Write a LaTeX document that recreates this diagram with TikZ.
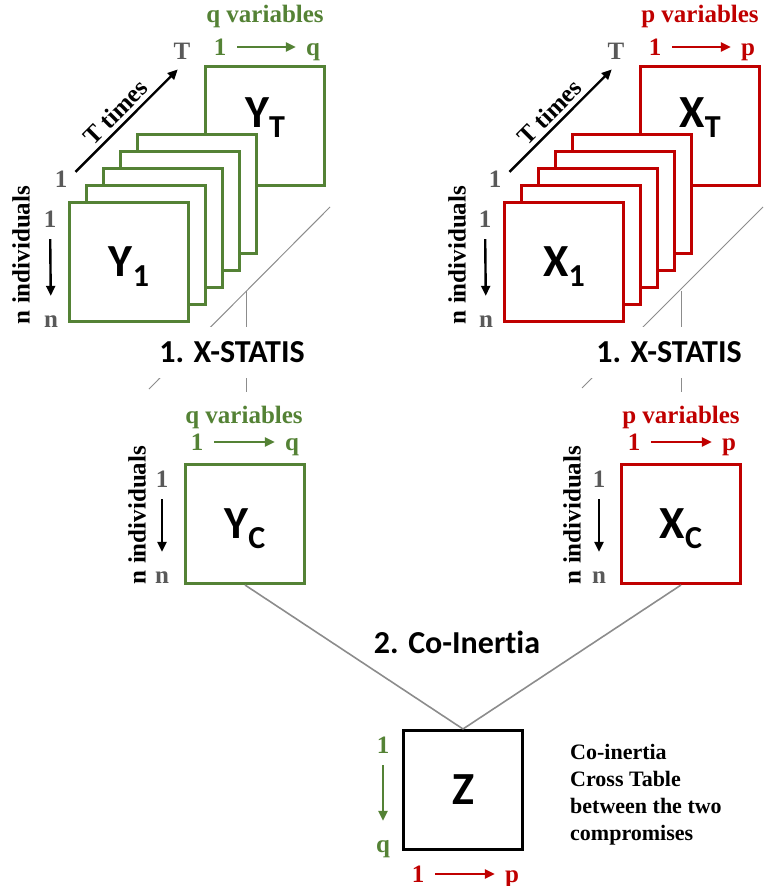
\documentclass[tikz,border=0pt]{standalone}
\usepackage{fontspec}
\setmainfont{Liberation Serif}
\newfontfamily\calib[Ligatures=NoCommon]{Carlito}
\usepackage{xcolor}
\usepackage{tikz}
\usetikzlibrary{arrows.meta}

\definecolor{ygreen}{RGB}{84,130,53}
\definecolor{xred}{RGB}{192,0,0}
\definecolor{numgray}{RGB}{89,89,89}
\definecolor{linkgray}{RGB}{140,140,140}

\newcommand{\tabl}[2]{{\calib\bfseries\fontsize{46}{46}\selectfont #1\raisebox{-10pt}[0pt][0pt]{\fontsize{32}{32}\selectfont #2}}}

\begin{document}
\begin{tikzpicture}[
    x=1pt, y=-1pt,
    ymat/.style={rectangle, draw=ygreen, line width=3pt, fill=white, minimum size=119pt, inner sep=0pt},
    xmat/.style={ymat, draw=xred},
    zmat/.style={ymat, draw=black},
    matname/.style={anchor=base, inner sep=0pt},
    varlabel/.style={font=\bfseries\fontsize{25}{25}\selectfont, anchor=base, inner sep=1pt},
    idx/.style={varlabel, text height=21pt, text depth=5pt},
    axislabel/.style={font=\bfseries\fontsize{25}{25}\selectfont, inner sep=1pt},
    stage/.style={font=\calib\bfseries\fontsize{32}{32}\selectfont, fill=white, minimum width=173pt, minimum height=51pt},
    link/.style={draw=linkgray, line width=1pt},
    harrow/.style={-{Triangle[length=10pt, width=9pt]}, line width=2.4pt, shorten <=10pt, shorten >=9pt},
    varrow/.style={-{Triangle[length=10pt, width=9pt]}, line width=2.4pt, shorten <=6pt, shorten >=9pt},
    tarrow/.style={-{Triangle[length=10pt, width=9pt]}, line width=2.4pt, shorten <=10pt, shorten >=6pt}
]
\useasboundingbox (0,0) rectangle (763,886);

% plane under the stacks
\coordinate (yplaneA) at (330,207);
\coordinate (yplaneB) at (149,389);
\coordinate (yplaneC) at (246,291);
\coordinate (yplaneD) at (246,392);
\coordinate (xplaneA) at (763,207);
\coordinate (xplaneB) at (582,388);
\coordinate (xplaneC) at (681,291);
\coordinate (xplaneD) at (681,392);
\draw[link] (yplaneA) -- (yplaneB);
\draw[link] (yplaneC) -- (yplaneD);
\draw[link] (xplaneA) -- (xplaneB);
\draw[link] (xplaneC) -- (xplaneD);

% Y stack
\node[ymat] (yT) at (265,126) {};
\node[matname] (yTname) at (265,127) {\tabl{Y}{T}};
\node[ymat] (y5) at (197,194) {};
\node[ymat] (y4) at (180,211) {};
\node[ymat] (y3) at (163,228) {};
\node[ymat] (y2) at (146,245) {};
\node[ymat] (y1) at (129,262) {\tabl{Y}{1}};

\node[varlabel, text=ygreen] (yvar) at (265,22) {q variables};
\node[idx, text=ygreen] (yv1) at (220,55) {1};
\node[idx, text=ygreen] (yvq) at (313,55) {q};
\node[idx, text=numgray] (ytT) at (182,59) {T};
\node[idx, text=numgray] (yt1) at (61,187) {1};
\node[axislabel, rotate=90] (yind) at (21,255) {n individuals};
\node[idx, text=numgray] (yn1) at (50,227) {1};
\node[idx, text=numgray] (ynn) at (51,327) {n};

% X stack
\node[xmat] (xT) at (700,126) {};
\node[matname] (xTname) at (700,127) {\tabl{X}{T}};
\node[xmat] (x5) at (632,194) {};
\node[xmat] (x4) at (615,211) {};
\node[xmat] (x3) at (598,228) {};
\node[xmat] (x2) at (581,245) {};
\node[xmat] (x1) at (564,262) {\tabl{X}{1}};

\node[varlabel, text=xred] (xvar) at (700,22) {p variables};
\node[idx, text=xred] (xv1) at (655,55) {1};
\node[idx, text=xred] (xvp) at (748,55) {p};
\node[idx, text=numgray] (xtT) at (616,59) {T};
\node[idx, text=numgray] (xt1) at (495,187) {1};
\node[axislabel, rotate=90] (xind) at (457,255) {n individuals};
\node[idx, text=numgray] (xn1) at (485,227) {1};
\node[idx, text=numgray] (xnn) at (486,327) {n};

% step 1
\node[stage] (ystatis) at (232,352) {1. X-STATIS};
\node[stage] (xstatis) at (669,352) {1. X-STATIS};

% compromises
\node[ymat] (yc) at (245,524) {\tabl{Y}{C}};
\node[varlabel, text=ygreen] (ycvar) at (244,423) {q variables};
\node[idx, text=ygreen] (ycv1) at (197,450) {1};
\node[idx, text=ygreen] (ycvq) at (292,450) {q};
\node[axislabel, rotate=90] (ycind) at (137,515) {n individuals};
\node[idx, text=numgray] (ycn1) at (162,487) {1};
\node[idx, text=numgray] (ycnn) at (162,583) {n};

\node[xmat] (xc) at (681,524) {\tabl{X}{C}};
\node[varlabel, text=xred] (xcvar) at (681,423) {p variables};
\node[idx, text=xred] (xcv1) at (634,450) {1};
\node[idx, text=xred] (xcvp) at (729,450) {p};
\node[axislabel, rotate=90] (xcind) at (572,515) {n individuals};
\node[idx, text=numgray] (xcn1) at (599,487) {1};
\node[idx, text=numgray] (xcnn) at (599,583) {n};

% step 2
\node[font=\calib\bfseries\fontsize{32}{32}\selectfont, anchor=base] (coin) at (457,653) {2. Co-Inertia};
\node[zmat] (z) at (463,790) {\tabl{Z}{}};
\node[idx, text=ygreen] (zq1) at (383,753) {1};
\node[idx, text=ygreen] (zqq) at (383,852) {q};
\node[idx, text=xred] (zp1) at (418,882) {1};
\node[idx, text=xred] (zpp) at (512,882) {p};
\node[anchor=north west, inner sep=0pt, align=left, font=\bfseries\fontsize{22}{27}\selectfont] (znote) at (570,744) {Co-inertia\\Cross Table\\between the two\\compromises};

% Arrows
\draw[harrow, ygreen] (yv1) -- (yvq);
\draw[tarrow] (yt1.east) -- node[axislabel, sloped, above=3pt] (ytimes) {T times} (ytT.south);
\draw[varrow] (yn1) -- (ynn);
\draw[harrow, xred] (xv1) -- (xvp);
\draw[tarrow] (xt1.east) -- node[axislabel, sloped, above=3pt] (xtimes) {T times} (xtT.south);
\draw[varrow] (xn1) -- (xnn);
\draw[harrow, ygreen] (ycv1) -- (ycvq);
\draw[varrow] (ycn1) -- (ycnn);
\draw[harrow, xred] (xcv1) -- (xcvp);
\draw[varrow] (xcn1) -- (xcnn);
\draw[varrow, ygreen] (zq1) -- (zqq);
\draw[harrow, xred] (zp1) -- (zpp);
\draw[link, line width=1.6pt] (yc.south) -- (z.north);
\draw[link, line width=1.6pt] (xc.south) -- (z.north);

\end{tikzpicture}
\end{document}
